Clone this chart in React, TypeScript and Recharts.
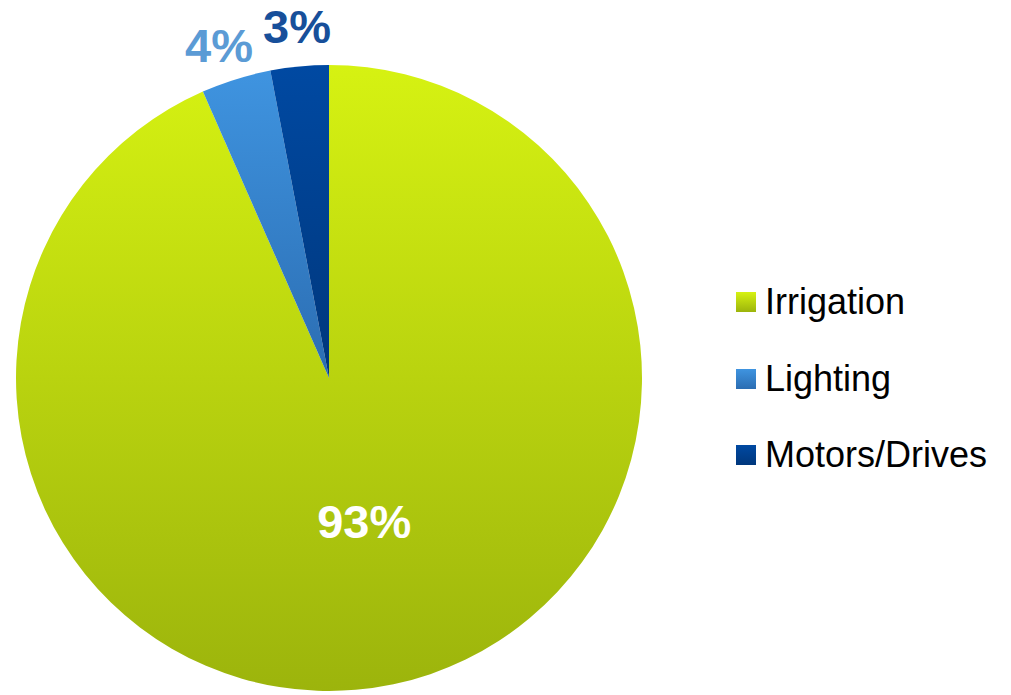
import { Legend, Pie, PieChart, Cell } from 'recharts';

const categories = ['Irrigation', 'Lighting', 'Motors/Drives'];
const shares = [93.4, 3.6, 3.0];

const sliceGradients = [
  { id: 'gIrr', top: '#d6f212', bottom: '#9cb40c' },
  { id: 'gLig', top: '#3f94e0', bottom: '#2b6db2' },
  { id: 'gMot', top: '#0049a2', bottom: '#00377c' },
];
const labelColors = ['#ffffff', '#5b9bd5', '#174f9a'];
// small horizontal nudges so the labels sit where the original puts them
const labelDx = [5, -6, 1];
const labelDy = [0, 2, -3];

const data = categories.map((name, i) => ({ name, value: shares[i] }));

const RAD = Math.PI / 180;

const renderLabel = (props: any) => {
  const { cx, cy, midAngle, outerRadius, index, value } = props;
  // big slice label sits inside, small ones float outside the rim
  const r = index === 0 ? outerRadius * 0.47 : outerRadius + 37;
  const x = cx + r * Math.cos(-midAngle * RAD) + labelDx[index];
  const y = cy + r * Math.sin(-midAngle * RAD) + labelDy[index];
  return (
    <text
      x={x}
      y={y}
      fill={labelColors[index]}
      fontSize={47}
      fontWeight="bold"
      fontFamily="'Liberation Sans', Arial, sans-serif"
      textAnchor="middle"
      dominantBaseline="central"
    >
      {Math.round(value)}%
    </text>
  );
};

const LegendBox = () => (
  <div style={{ fontFamily: "'Liberation Sans', Arial, sans-serif" }}>
    {categories.map((name, i) => (
      <div key={name} style={{ display: 'flex', alignItems: 'center', height: 76.5 }}>
        <svg width={20} height={20} style={{ marginRight: 9 }}>
          <rect width={20} height={20} fill={`url(#${sliceGradients[i].id})`} />
        </svg>
        <span style={{ fontSize: 36, color: '#000' }}>{name}</span>
      </div>
    ))}
  </div>
);

export default function App() {
  return (
    <div style={{ position: 'absolute', left: 0, top: 0, background: '#fff' }}>
      <PieChart width={1011} height={695} margin={{ top: 0, right: 0, bottom: 0, left: 0 }}>
        <defs>
          {sliceGradients.map((g) => (
            <linearGradient key={g.id} id={g.id} x1="0" y1="0" x2="0" y2="1">
              <stop offset="0%" stopColor={g.top} />
              <stop offset="100%" stopColor={g.bottom} />
            </linearGradient>
          ))}
        </defs>
        <Pie
          data={data}
          dataKey="value"
          nameKey="name"
          cx={329}
          cy={378}
          outerRadius={313}
          startAngle={90}
          endAngle={-270}
          stroke="none"
          label={renderLabel}
          labelLine={false}
          isAnimationActive={false}
        >
          {data.map((d, i) => (
            <Cell key={d.name} fill={`url(#${sliceGradients[i].id})`} />
          ))}
        </Pie>
        <Legend
          content={<LegendBox />}
          wrapperStyle={{ left: 736, top: 264, width: 275, position: 'absolute' }}
        />
      </PieChart>
    </div>
  );
}
